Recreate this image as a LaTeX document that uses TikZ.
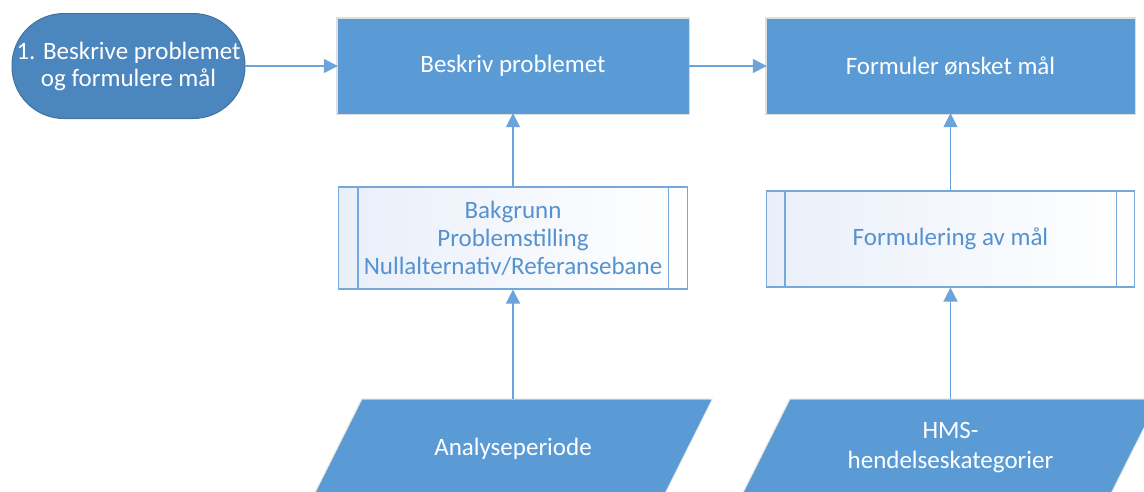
\documentclass[tikz,border=0pt]{standalone}
\usepackage{fontspec}
\setmainfont{Carlito}
\usetikzlibrary{arrows.meta}
\definecolor{boxblue}{HTML}{5B9BD5}
\definecolor{ovalblue}{HTML}{4C86BF}
\definecolor{ovalline}{HTML}{41719C}
\definecolor{linkblue}{HTML}{6AA4DA}
\definecolor{subline}{HTML}{76A8D9}
\definecolor{subtext}{HTML}{5592CF}
\definecolor{subfill}{HTML}{E9EFF9}
\tikzset{
  halo/.style={preaction={draw=black!13, line width=3.5pt}},
  procbox/.style={halo, rectangle, fill=boxblue, draw=boxblue, text=white,
    font=\fontsize{25}{28}\selectfont, inner sep=0pt, align=center},
  startoval/.style={rectangle, rounded corners=52pt, fill=ovalblue, draw=ovalline,
    line width=1pt, text=white, font=\fontsize{25}{27}\selectfont, inner sep=0pt,
    align=center, minimum width=233pt, minimum height=105pt},
  subbox/.style={rectangle, draw=subline, line width=1.2pt, left color=subfill,
    right color=white, text=subtext, font=\fontsize{25}{28}\selectfont,
    inner sep=0pt, align=center},
  inputtext/.style={text=white, font=\fontsize{25}{30}\selectfont, align=center, inner sep=0pt},
  conn/.style={draw=linkblue, line width=1.6pt, -{Triangle[length=14pt,width=14pt]}},
  subbar/.style={draw=subline, line width=1.2pt}
}
\begin{document}
\begin{tikzpicture}[x=1pt,y=-1pt]
\clip (0,0) rectangle (1144,491);
\fill[white] (0,0) rectangle (1144,491);

% top row
\node[startoval] (start) at (128.5,66) {1. Beskrive problemet\\og formulere mål};
\node[procbox, minimum width=350pt, minimum height=94pt] (describe) at (513,66) {Beskriv problemet};
\node[procbox, minimum width=367pt, minimum height=94pt] (goal) at (950.5,66) {Formuler ønsket mål};

% predefined processes
\node[subbox, minimum width=349pt, minimum height=102pt] (background) at (513,238)
  {Bakgrunn\\Problemstilling\\Nullalternativ/Referansebane};
\draw[subbar] ([xshift=20pt]background.north west) -- ([xshift=20pt]background.south west);
\draw[subbar] ([xshift=-20pt]background.north east) -- ([xshift=-20pt]background.south east);

\node[subbox, minimum width=368pt, minimum height=96pt] (formulate) at (950.5,239)
  {Formulering av mål};
\draw[subbar] ([xshift=19pt]formulate.north west) -- ([xshift=19pt]formulate.south west);
\draw[subbar] ([xshift=-19pt]formulate.north east) -- ([xshift=-19pt]formulate.south east);

% data inputs (parallelograms running off the lower edge)
\filldraw[fill=boxblue, draw=black!13, line width=1pt] (362,399) -- (712,399) -- (661,501) -- (311,501) -- cycle;
\filldraw[fill=boxblue, draw=black!13, line width=1pt] (790,399) -- (1158,399) -- (1107,501) -- (739,501) -- cycle;
\fill[boxblue] (362.6,400) -- (711.2,400) -- (660.5,501) -- (311.8,501) -- cycle;
\fill[boxblue] (790.6,400) -- (1157.2,400) -- (1106.5,501) -- (739.8,501) -- cycle;
\node[inputtext] (period) at (513,449) {Analyseperiode};
\node[inputtext] (hms) at (950.5,448) {HMS-\\hendelseskategorier};
\coordinate (periodtop) at (513,399);
\coordinate (hmstop) at (950.5,399);

% connectors
\draw[conn] (start.east) -- (describe.west);
\draw[conn] (describe.east) -- (goal.west);
\draw[conn] (background.north) -- (describe.south);
\draw[conn] (formulate.north) -- (goal.south);
\draw[conn] (periodtop) -- (background.south);
\draw[conn] (hmstop) -- (formulate.south);
\end{tikzpicture}
\end{document}
